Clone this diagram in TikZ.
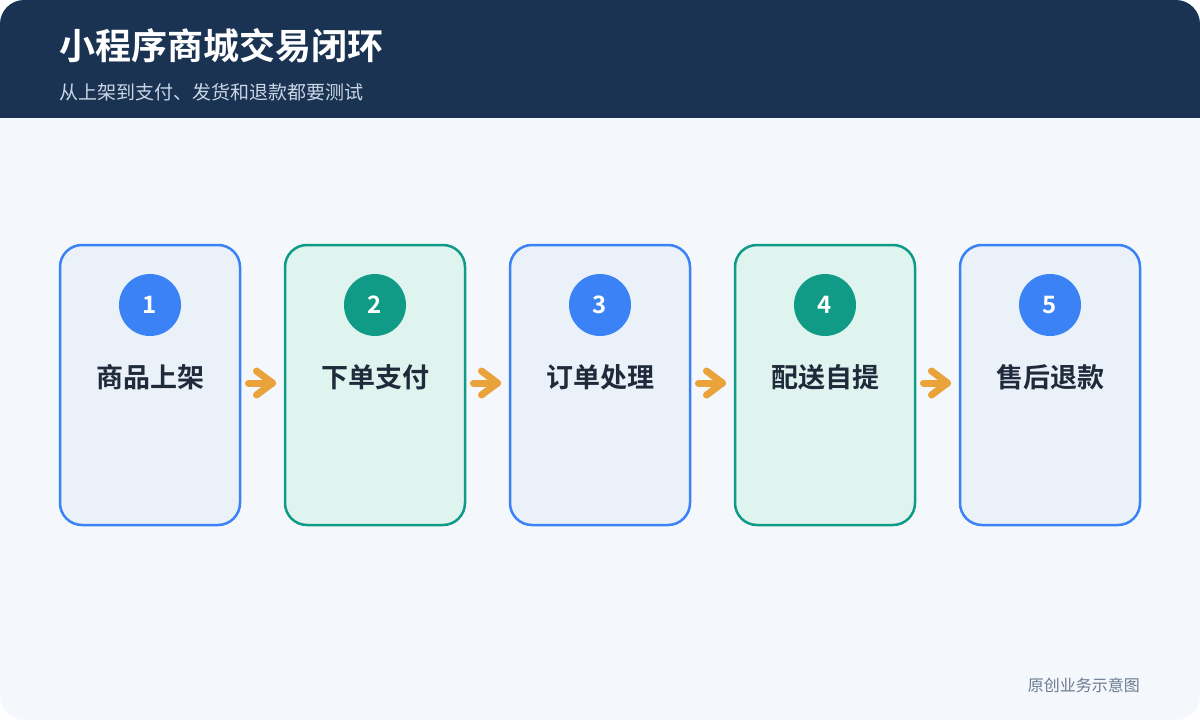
\documentclass[tikz,border=0pt]{standalone}
\usepackage{fontspec}
\usetikzlibrary{calc}
\newfontfamily\cjk{Noto Sans CJK SC}
\newfontfamily\cjkb{Noto Sans CJK SC Bold}
\definecolor{hdr}{HTML}{1B3352}
\definecolor{bgc}{HTML}{F4F8FC}
\definecolor{blu}{HTML}{3B82F6}
\definecolor{tea}{HTML}{0F9B86}
\definecolor{bluf}{HTML}{EAF1F9}
\definecolor{teaf}{HTML}{DFF3EF}
\definecolor{org}{HTML}{EAA23A}
\definecolor{dark}{HTML}{1F2A3A}
\definecolor{subc}{HTML}{C9D6E6}
\definecolor{foot}{HTML}{6B7A90}
\tikzset{
  card/.style={draw=#1, line width=2.5pt, rounded corners=22pt, minimum width=180pt, minimum height=280pt, anchor=north west, inner sep=0pt, outer sep=0pt},
  badge/.style={circle, fill=#1, minimum size=62pt, inner sep=0pt, text=white, font=\cjkb\fontsize{24}{28}\selectfont},
  lbl/.style={text=dark, font=\cjkb\fontsize{27}{31}\selectfont, inner sep=0pt},
  flow/.style={draw=org, line width=7pt, line cap=round, line join=round}
}
\begin{document}
\begin{tikzpicture}[x=1pt,y=-1pt]
\useasboundingbox (0,0) rectangle (1200,720);
\fill[white] (0,0) rectangle (1200,720);
\fill[bgc, rounded corners=24pt] (0,0) rectangle (1200,720);
\begin{scope}
\clip[rounded corners=24pt] (0,0) rectangle (1200,720);
\fill[hdr] (0,0) rectangle (1200,118);
\end{scope}
\node[anchor=west, text=white, font=\cjkb\fontsize{36}{40}\selectfont, inner sep=0pt] (title) at (59,46) {小程序商城交易闭环};
\node[anchor=west, text=subc, font=\cjk\fontsize{19}{23}\selectfont, inner sep=0pt] (sub) at (59,92) {从上架到支付、发货和退款都要测试};
\node[anchor=east, text=foot, font=\cjk\fontsize{16}{20}\selectfont, inner sep=0pt] (foot) at (1140,685) {原创业务示意图};
% cards
\foreach \i/\c/\f/\t [count=\k from 0] in {1/blu/bluf/商品上架, 2/tea/teaf/下单支付, 3/blu/bluf/订单处理, 4/tea/teaf/配送自提, 5/blu/bluf/售后退款}{
  \node[card=\c, fill=\f] (c\i) at (60+225*\k,245) {};
  \node[badge=\c] (b\i) at (150+225*\k,305) {\i};
  \node[lbl] (l\i) at (150+225*\k,377) {\t};
}
\foreach \a/\b in {1/2,2/3,3/4,4/5}{
  \coordinate (s\a) at ($(c\a.east)+(8.5,-2)$);
  \coordinate (t\a) at ($(c\b.west)+(-12.5,-2)$);
  \draw[flow] (s\a) -- (t\a);
  \draw[flow] ($(t\a)+(-16,-12)$) -- (t\a) -- ($(t\a)+(-16,12)$);
}
\end{tikzpicture}
\end{document}
